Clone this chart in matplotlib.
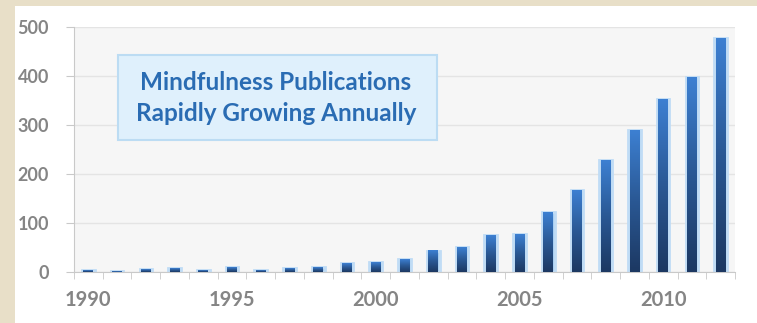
import numpy as np
import matplotlib
matplotlib.use("Agg")
import matplotlib.pyplot as plt
from matplotlib.colors import LinearSegmentedColormap
from matplotlib.patches import Rectangle

# ============================================================
# DATA
# ============================================================
years = list(range(1990, 2013))
pubs = [3, 2, 6, 8, 4, 9, 4, 8, 9, 17, 20, 26, 43, 51, 75, 77,
        122, 167, 228, 290, 353, 398, 477]
label_years = [1990, 1995, 2000, 2005, 2010]
y_ticks = [0, 100, 200, 300, 400, 500]
box_text = "Mindfulness Publications\nRapidly Growing Annually"

# ============================================================
# FIGURE
# ============================================================
W, H = 757, 323
fig = plt.figure(figsize=(W / 100, H / 100), dpi=100, facecolor="#e8dfc8")
fig.add_artist(Rectangle((15 / W, 0), 1, 1 - 6 / H, transform=fig.transFigure,
                         facecolor="white", edgecolor="none", zorder=-10))

ax = fig.add_axes([74 / W, (H - 271.7) / H, (735 - 74) / W, (271.7 - 27) / H])
ax.set_facecolor("#f6f6f6")

x = np.arange(len(years))
bar_w = 0.44
cmap = LinearSegmentedColormap.from_list("bar", ["#1c3862", "#2a5894", "#3d80d2"])
grad = np.linspace(0, 1, 256).reshape(-1, 1)

for xi, v in zip(x, pubs):
    # light glow behind each bar
    ax.add_patch(Rectangle((xi - bar_w / 2, 0), bar_w, v, facecolor="#a9cff2",
                           edgecolor="#c0dcf5", linewidth=2.0, zorder=2))
    ax.imshow(grad, cmap=cmap, origin="lower", aspect="auto", zorder=3,
              extent=[xi - bar_w / 2 + 0.05, xi + bar_w / 2 - 0.05, 0, v])

ax.set_xlim(-0.5, len(years) - 0.5)
ax.set_ylim(0, 500)

# grid & spines
ax.set_yticks(y_ticks)
ax.yaxis.grid(True, color="#e4e4e4", linewidth=1)
ax.set_axisbelow(True)
for s in ["top", "right"]:
    ax.spines[s].set_visible(False)
ax.spines["left"].set_color("#c9c9c9")
ax.spines["bottom"].set_color("#c9c9c9")

ax.set_xticks([years.index(y) for y in label_years])
ax.set_xticklabels([str(y) for y in label_years])
ax.set_xticks(np.arange(-0.5, len(years)), minor=True)
ax.tick_params(axis="x", which="major", length=0, pad=13)
ax.tick_params(axis="x", which="minor", length=5, color="#c9c9c9")
ax.tick_params(axis="y", length=6, color="#c9c9c9", pad=12)
for lab in ax.get_xticklabels():
    lab.set_fontsize(14.5)
for lab in ax.get_yticklabels():
    lab.set_fontsize(13)
for lab in ax.get_xticklabels() + ax.get_yticklabels():
    lab.set_family("Lato")
    lab.set_color("#858585")
    lab.set_fontweight("bold")

# annotation box
fig.add_artist(Rectangle((118 / W, 1 - 140 / H), (437 - 118) / W, 85 / H,
                         transform=fig.transFigure, facecolor="#dff0fc",
                         edgecolor="#bcdcf3", linewidth=1.5, zorder=5))
fig.text(276 / W, 1 - 98 / H, box_text, ha="center", va="center",
         family="Lato", fontweight="bold", fontsize=17.5, color="#2a6cb3",
         linespacing=1.4, zorder=6)

fig.savefig("out.png", dpi=100, facecolor=fig.get_facecolor())
